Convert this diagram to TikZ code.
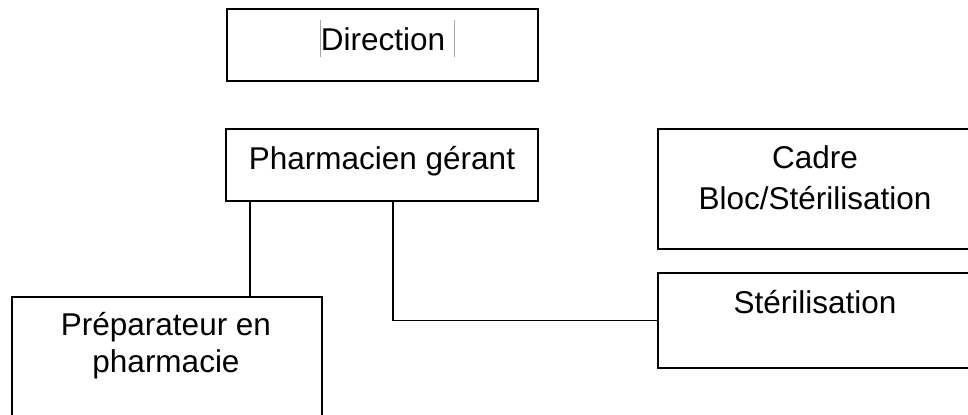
\documentclass[tikz,border=0pt]{standalone}
\usepackage{fontspec}
\setmainfont{Liberation Sans}
\begin{document}
\begin{tikzpicture}[x=1bp,y=-1bp,
  box/.style={draw=black,line width=1.8bp,rectangle,inner sep=0pt,minimum width=#1},
  lbl/.style={anchor=base,inner sep=0pt,font=\fontsize{31.5bp}{36bp}\selectfont},
  conn/.style={draw=black,line width=1.8bp},
  caret/.style={draw=black!35,line width=0.7bp}]
\useasboundingbox (0,0) rectangle (968,414);
\clip (0,0) rectangle (968,414);
\fill[white] (0,0) rectangle (968,414);
% boxes
\node[box=311bp,minimum height=72bp] (dir) at (382.5,45) {};
\node[box=312bp,minimum height=72bp] (pg) at (382,165) {};
\node[box=310bp,minimum height=143bp] (prep) at (167,368.5) {};
\node[box=332bp,minimum height=120bp] (cadre) at (824,189) {};
\node[box=332bp,minimum height=95bp] (ster) at (824,320.5) {};
% texts
\node[lbl] (tdir) at (383,50) {Direction};
\draw[caret] (320,20) -- (320,57);
\draw[caret] (454,20) -- (454,57);
\node[lbl] (tpg) at (382,169) {Pharmacien gérant};
\node[lbl] (tprep1) at (166,335) {Préparateur en};
\node[lbl] (tprep2) at (166,372) {pharmacie};
\node[lbl] (tcadre1) at (815,168) {Cadre};
\node[lbl] (tcadre2) at (815,209) {Bloc/Stérilisation};
\node[lbl] (tster) at (815,313) {Stérilisation};
% connectors
\coordinate (pgl) at ([xshift=25bp]pg.south west);
\coordinate (pgr) at ([xshift=168bp]pg.south west);
\draw[conn] (pgl) -- (pgl |- prep.north);
\draw[conn] (pgr) |- (ster.west);
\end{tikzpicture}
\end{document}
